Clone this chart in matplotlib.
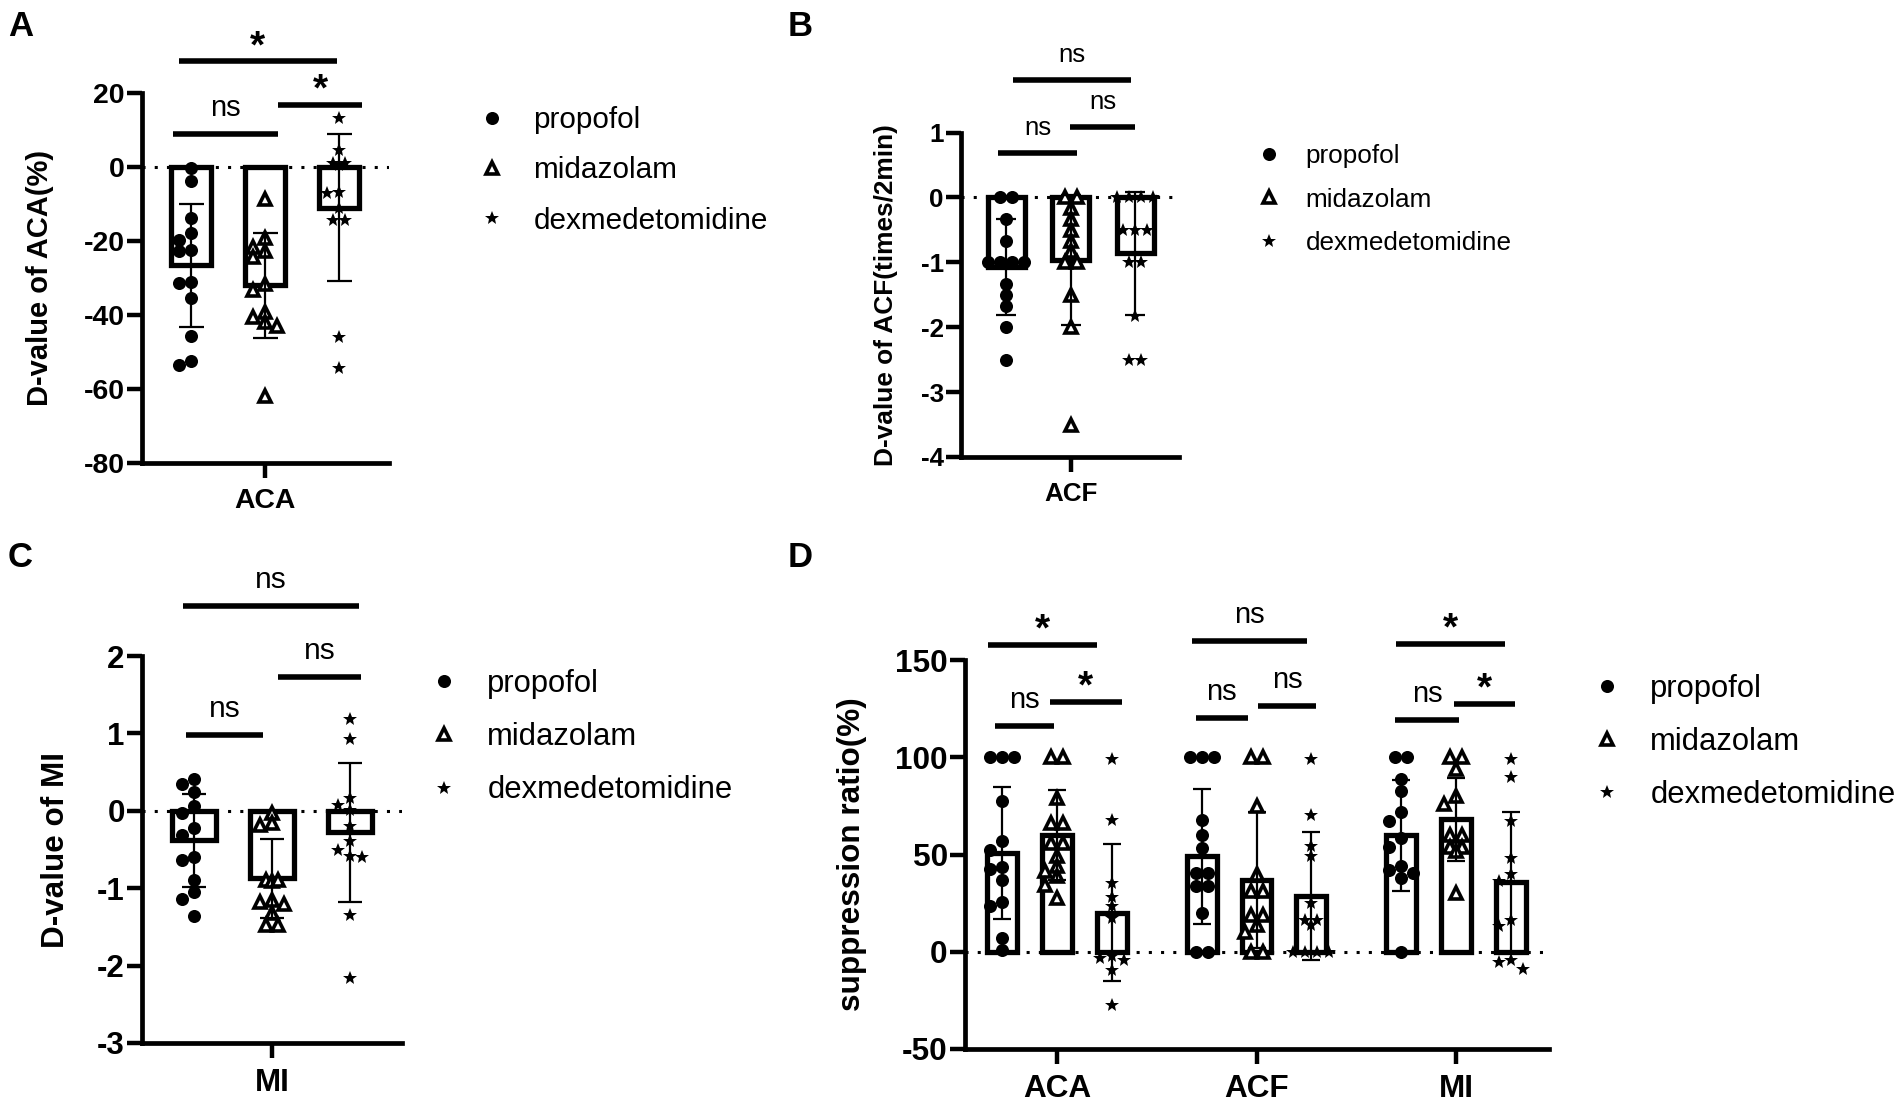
import matplotlib
matplotlib.use("Agg")
import matplotlib.pyplot as plt
from matplotlib.lines import Line2D
import numpy as np

plt.rcParams['font.family'] = ['Liberation Sans', 'DejaVu Sans']
plt.rcParams['axes.unicode_minus'] = False

# ---- data ----
groups = ['propofol', 'midazolam', 'dexmedetomidine']

# A: D-value of ACA (%)
aca_propofol = [-0.2, -3.8, -13.7, -17.8, -19.8, -22.8, -22.4, -31.3, -31.0, -35.3, -45.7, -53.6, -52.3]
aca_midazolam = [-8.7, -21.5, -19.2, -24.2, -22.6, -31.5, -33.3, -40.6, -39.3, -42.9, -42.0, -61.8]
aca_dex = [13.2, 4.6, 1.2, 0.5, 1.2, -6.8, -7.1, -11.0, -14.3, -14.3, -45.9, -54.2]
aca_mean = [-26.6, -32.0, -11.0]
aca_sd = [16.6, 14.2, 19.8]

# B: D-value of ACF (times/2min)
acf_propofol = [0, 0, -0.33, -0.67, -1, -1, -1, -1, -1.33, -1.5, -1.67, -2, -2.5]
acf_midazolam = [0, 0, -0.17, -0.33, -0.5, -0.67, -0.83, -1, -1, -1.5, -2, -3.5]
acf_dex = [0, 0, 0, 0, -0.5, -0.5, -0.5, -1, -1, -1.83, -2.5, -2.5]
acf_mean = [-1.07, -0.96, -0.86]
acf_sd = [0.74, 1.0, 0.945]

# C: D-value of MI
mi_propofol = [0.41, 0.34, 0.24, 0.06, -0.03, -0.22, -0.31, -0.64, -0.6, -0.89, -1.05, -1.14, -1.36]
mi_midazolam = [-0.03, -0.18, -0.16, -0.89, -0.91, -0.89, -1.18, -1.15, -1.2, -1.32, -1.47, -1.47]
mi_dex = [1.18, 0.93, 0.16, 0.08, 0.01, -0.2, -0.39, -0.59, -0.51, -0.6, -1.34, -2.16]
mi_mean = [-0.38, -0.87, -0.28]
mi_sd = [0.6, 0.51, 0.9]

# D: suppression ratio (%)
sr_categories = ['ACA', 'ACF', 'MI']
sr_aca_propofol = [100, 100, 100, 77.6, 56.7, 52.1, 42.5, 43.5, 37.0, 25.4, 23.3, 7.0, 1.0]
sr_aca_midazolam = [100, 100, 79, 66.2, 66.2, 55.9, 55.9, 49, 43.9, 38.7, 41.3, 34.4, 27.6]
sr_aca_dex = [99, 67.5, 35.3, 28.4, 23.3, 17.3, -3.3, -2, -4.1, -9.6, -27.2]
sr_acf_propofol = [100, 100, 100, 67.5, 60.2, 53.3, 40.4, 40.4, 33.6, 33.6, 19.9, 0, 0]
sr_acf_midazolam = [100, 100, 75, 40, 31, 31, 19, 19, 14, 10, 0, 0]
sr_acf_dex = [99, 70.4, 54.5, 49.4, 25, 16.5, 16.5, 13.9, 0, 0, 0, 0]
sr_mi_propofol = [100, 100, 88.8, 82.5, 71.6, 67, 58.4, 53.8, 43.9, 40.4, 37.9, 42.2, 0]
sr_mi_midazolam = [100, 100, 94, 80, 76, 60, 60, 56, 54, 54, 52, 30]
sr_mi_dex = [99, 90.1, 67, 48.2, 40, 36.2, 16.5, 13.1, -4.1, -5.3, -8.9]
sr_mean = [[50.7, 60.1, 20.1], [49.2, 37.0, 28.7], [59.9, 68.0, 35.7]]
sr_sd = [[34.1, 23.3, 35.2], [34.7, 35.0, 32.7], [28.6, 21.1, 36.0]]

# significance brackets: (x0, x1, y, label)
sig_a = [(-0.24, 1.18, 9.0, 'ns'), (1.18, 2.31, 16.8, '*'), (-0.16, 1.97, 28.6, '*')]
sig_b = [(-0.12, 1.10, 0.684, 'ns'), (0.99, 2.0, 1.085, 'ns'), (0.11, 1.94, 1.81, 'ns')]
sig_c = [(-0.10, 0.88, 0.98, 'ns'), (1.08, 2.14, 1.73, 'ns'), (-0.14, 2.12, 2.65, 'ns')]
sig_d = [(-0.31, -0.015, 116.2, 'ns'), (-0.035, 0.325, 128.5, '*'), (-0.345, 0.2, 157.8, '*'),
         (0.695, 0.955, 120.3, 'ns'), (1.01, 1.30, 126.5, 'ns'), (0.675, 1.255, 159.9, 'ns'),
         (1.695, 2.015, 119.3, 'ns'), (1.99, 2.295, 127.5, '*'), (1.70, 2.245, 158.4, '*')]

# ---- styling ----
W, H = 1902, 1103
STYLE = {
    'propofol': dict(marker='o', markersize=9.4, markerfacecolor='black', markeredgecolor='black', markeredgewidth=0),
    'midazolam': dict(marker='^', markersize=8.6, markerfacecolor='white', markeredgecolor='black', markeredgewidth=2.6),
    'dexmedetomidine': dict(marker='*', markersize=10, markerfacecolor='black', markeredgecolor='black', markeredgewidth=0),
}

fig = plt.figure(figsize=(W / 100, H / 100), dpi=100)


def px_axes(left, top, right, bottom):
    return fig.add_axes([left / W, 1 - bottom / H, (right - left) / W, (bottom - top) / H])


def swarm(vals, xpx, ypx, step=12.0, min_d=9.5):
    # simple beeswarm in pixel space (three columns), returns offsets in data x units
    vals = np.asarray(vals, float)
    out = np.zeros(len(vals))
    placed = []
    for v in sorted(set(vals), reverse=True):
        idx = np.where(vals == v)[0]
        y = v * ypx
        if len(idx) > 1:
            for k, i in enumerate(idx):
                x = (k - (len(idx) - 1) / 2) * step
                out[i] = x
                placed.append((x, y))
            continue
        best, best_d = 0.0, -1.0
        for k in (0, -1, 1):
            x = k * step
            d = min([np.hypot(x - px, y - py) for px, py in placed] or [1e9])
            if d >= min_d:
                best = x
                break
            if d > best_d:
                best, best_d = x, d
        out[idx[0]] = best
        placed.append((best, y))
    return out / xpx


def style_axes(ax, ylim, yticks, fs, xticks, xlabels):
    ax.set_ylim(*ylim)
    ax.set_yticks(yticks)
    ax.set_xticks(xticks)
    ax.set_xticklabels(xlabels)
    for s in ('top', 'right'):
        ax.spines[s].set_visible(False)
    for s in ('left', 'bottom'):
        ax.spines[s].set_linewidth(3.4)
    ax.tick_params(axis='both', length=11, width=3.2, labelsize=fs)
    ax.tick_params(axis='y', pad=1.5)
    ax.tick_params(axis='x', pad=7)
    for lbl in ax.get_xticklabels() + ax.get_yticklabels():
        lbl.set_fontweight('bold')
    ax.axhline(0, color='black', lw=2.2, ls=(0, (1, 3)), zorder=1)


def draw_groups(ax, centers, series, means, sds, bar_w, cap):
    p0 = ax.transData.transform((0, 0))
    p1 = ax.transData.transform((1, 1))
    xpx, ypx = p1[0] - p0[0], p1[1] - p0[1]
    for c, g, vals, m, s in zip(centers, groups, series, means, sds):
        ax.bar(c, m, width=bar_w, color='white', edgecolor='black', linewidth=3.8, zorder=2)
        offs = swarm(vals, xpx, ypx)
        ax.plot(c + offs, vals, ls='none', zorder=3, clip_on=False, **STYLE[g])
        ax.errorbar(c, m, yerr=s, fmt='none', ecolor='black', elinewidth=1.6,
                    capsize=cap, capthick=1.6, zorder=4)


def draw_sig(ax, sigs, fs):
    for x0, x1, y, lab in sigs:
        ax.plot([x0, x1], [y, y], color='black', lw=4, solid_capstyle='butt', clip_on=False)
        if lab == '*':
            ax.annotate(lab, xy=((x0 + x1) / 2, y), xytext=(0, 3), textcoords='offset points',
                        ha='center', va='baseline', fontsize=28, fontweight='bold', annotation_clip=False)
        else:
            ax.annotate(lab, xy=((x0 + x1) / 2, y), xytext=(0, 13), textcoords='offset points',
                        ha='center', va='baseline', fontsize=fs, annotation_clip=False)


def add_legend(fs, left, top):
    handles = [Line2D([], [], ls='none', **STYLE[g]) for g in groups]
    fig.legend(handles, groups, loc='upper left', bbox_to_anchor=(left / W, 1 - top / H),
               bbox_transform=fig.transFigure, frameon=False, fontsize=fs, borderpad=0,
               borderaxespad=0, handlelength=0.8, handletextpad=1.0, labelspacing=0.75)


# ---- A ----
ax = px_axes(142, 93, 389, 463)
ax.set_xlim(-0.662, 2.676)
style_axes(ax, (-80, 20), np.arange(-80, 21, 20), 20.4, [1], ['ACA'])
draw_groups(ax, [0, 1, 2], [aca_propofol, aca_midazolam, aca_dex], aca_mean, aca_sd, 0.55, 9)
draw_sig(ax, sig_a, 21)
ax.set_ylabel('D-value of ACA(%)', fontsize=21, fontweight='bold')
ax.yaxis.set_label_coords((54 - 142) / 247, 0.5)
add_legend(21.4, 480, 106)

# ---- B ----
ax = px_axes(961, 132.5, 1179, 457)
ax.set_xlim(-0.70, 2.68)
style_axes(ax, (-4, 1), np.arange(-4, 2, 1), 18.7, [1], ['ACF'])
draw_groups(ax, [0, 1, 2], [acf_propofol, acf_midazolam, acf_dex], acf_mean, acf_sd, 0.57, 7.2)
draw_sig(ax, sig_b, 18.5)
ax.set_ylabel('D-value of ACF(times/2min)', fontsize=18.9, fontweight='bold')
ax.yaxis.set_label_coords((898 - 961) / 218, 0.5)
add_legend(18.8, 1258.6, 144)

# ---- C ----
ax = px_axes(142, 656, 402, 1043)
ax.set_xlim(-0.667, 2.667)
style_axes(ax, (-3, 2), np.arange(-3, 3, 1), 22.5, [1], ['MI'])
draw_groups(ax, [0, 1, 2], [mi_propofol, mi_midazolam, mi_dex], mi_mean, mi_sd, 0.565, 8.4)
draw_sig(ax, sig_c, 21.5)
ax.set_ylabel('D-value of MI', fontsize=22.6, fontweight='bold')
ax.yaxis.set_label_coords((71 - 142) / 260, 0.5)
add_legend(22.3, 431.6, 669)

# ---- D ----
ax = px_axes(965, 660, 1549, 1049)
ax.set_xlim(-0.46, 2.465)
style_axes(ax, (-50, 150), np.arange(-50, 151, 50), 22.7, [0, 1, 2], sr_categories)
sr_series = [[sr_aca_propofol, sr_aca_midazolam, sr_aca_dex],
             [sr_acf_propofol, sr_acf_midazolam, sr_acf_dex],
             [sr_mi_propofol, sr_mi_midazolam, sr_mi_dex]]
for gi in range(3):
    draw_groups(ax, [gi - 0.275, gi, gi + 0.275], sr_series[gi], sr_mean[gi], sr_sd[gi], 0.15, 6.5)
draw_sig(ax, sig_d, 21)
ax.set_ylabel('suppression ratio(%)', fontsize=22.7, fontweight='bold')
ax.yaxis.set_label_coords((867 - 965) / 584, 0.5)
add_legend(22.3, 1594.6, 673.5)

# panel letters
for lab, x, y in [('A', 8, 10), ('B', 788, 10), ('C', 8, 541), ('D', 788, 541)]:
    fig.text(x / W, 1 - y / H, lab, fontsize=25, fontweight='bold', ha='left', va='top')

fig.savefig('out.png', dpi=100)
